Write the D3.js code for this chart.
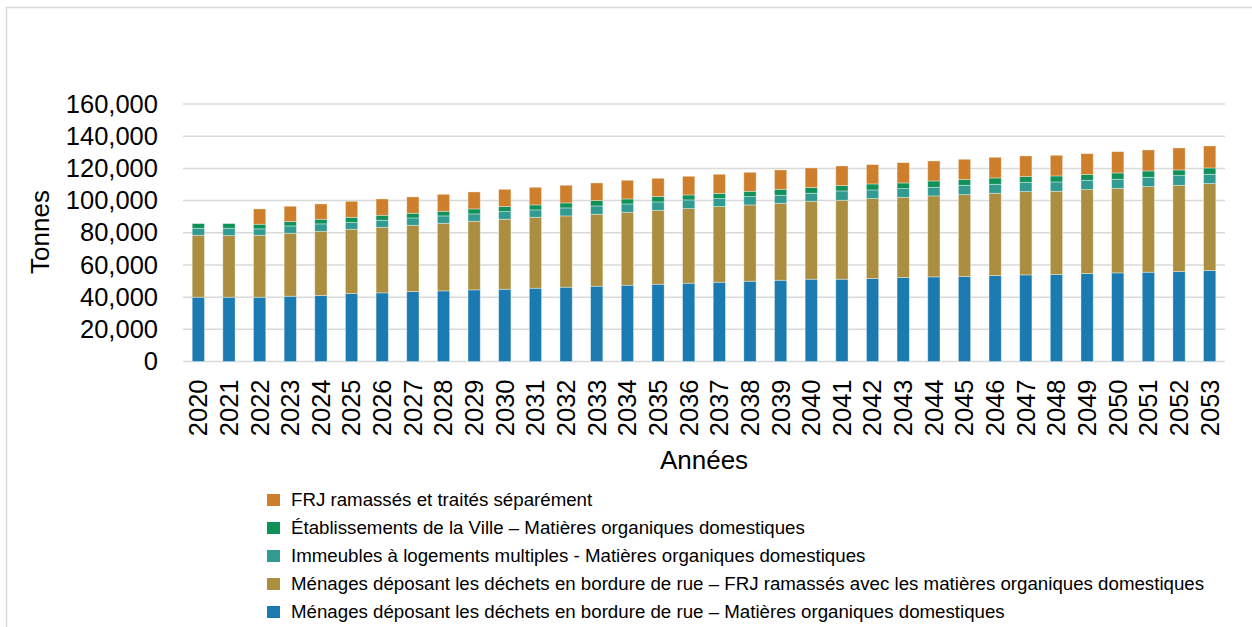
<!DOCTYPE html>
<html>
<head>
<meta charset="utf-8">
<script src="https://cdn.jsdelivr.net/npm/d3@7"></script>
<style>
  body { margin: 0; background: #fff; }
  svg { font-family: "Liberation Sans", Arial, sans-serif; }
</style>
</head>
<body>
<div class="chart"></div>
<script>
// data (tonnes)
var years = d3.range(2020, 2054).map(String);

var menagesMO = [39950, 39950, 39950, 40570, 41000, 42230, 42640, 43470, 43880, 44500,
  44920, 45540, 46160, 46780, 47400, 48020, 48650, 49270, 49890, 50500,
  51130, 51130, 51540, 52160, 52580, 52790, 53400, 53820, 54030, 54650,
  55060, 55480, 55890, 56510];
var menagesFRJ = [38500, 38300, 38500, 39130, 39900, 39970, 40780, 41190, 42020, 42650,
  43480, 44090, 44300, 44720, 45340, 45960, 46350, 46990, 47400, 47830,
  48440, 49060, 49680, 49890, 50300, 50910, 51140, 51750, 51750, 52160,
  52580, 53200, 53610, 54030];
var immeubles = [4350, 4550, 3950, 4550, 4600, 4300, 4350, 4540, 4560, 4550,
  4750, 4560, 4970, 5170, 5160, 5170, 5400, 4960, 5180, 4960,
  4970, 5790, 5380, 5380, 5380, 5800, 5580, 5800, 5790, 5790,
  5590, 5790, 6000, 5790];
var etablissements = [2900, 2900, 2900, 2650, 2900, 3100, 3100, 2900, 2900, 3100,
  3100, 3100, 3100, 3310, 3100, 3320, 3100, 3280, 3310, 3730,
  3510, 3320, 3730, 3520, 3930, 3520, 3940, 3510, 3730, 3530,
  3930, 3930, 3530, 3940];
var frjSepares = [0, 0, 9500, 9560, 9500, 9970, 10130, 10160, 10540, 10560,
  10750, 10970, 10970, 10970, 11600, 11380, 11590, 11830, 11790, 12010,
  12220, 12200, 12010, 12630, 12420, 12630, 12830, 12840, 12830, 13040,
  13250, 13050, 13660, 13660];

var yTicks = [0, 20000, 40000, 60000, 80000, 100000, 120000, 140000, 160000];

var series = [
  { key: "menagesMO", label: "Ménages déposant les déchets en bordure de rue – Matières organiques domestiques", values: menagesMO, color: "#1b7bb0" },
  { key: "menagesFRJ", label: "Ménages déposant les déchets en bordure de rue – FRJ ramassés avec les matières organiques domestiques", values: menagesFRJ, color: "#ab8e40" },
  { key: "immeubles", label: "Immeubles à logements multiples - Matières organiques domestiques", values: immeubles, color: "#319b92" },
  { key: "etablissements", label: "Établissements de la Ville – Matières organiques domestiques", values: etablissements, color: "#11915a" },
  { key: "frjSepares", label: "FRJ ramassés et traités séparément", values: frjSepares, color: "#cd7f2c" }
];

var svgWidth = 1252;
var svgHeight = 627;

var plot = { left: 183, right: 1225, top: 104, bottom: 361.5 };

var svg = d3.select(".chart")
  .append("svg")
  .attr("width", svgWidth)
  .attr("height", svgHeight);

// chart frame
svg.append("rect")
  .attr("x", 6.5)
  .attr("y", 7.5)
  .attr("width", 1260)
  .attr("height", 640)
  .attr("fill", "none")
  .attr("stroke", "#d9d9d9")
  .attr("stroke-width", 1.5);

var table = years.map(function(y, i) {
  var row = { year: y };
  series.forEach(function(s) { row[s.key] = s.values[i]; });
  return row;
});

var x = d3.scaleBand()
  .domain(years)
  .range([plot.left, plot.right])
  .paddingInner(0.6)
  .paddingOuter(0.3);

var y = d3.scaleLinear()
  .domain([0, 160000])
  .range([plot.bottom, plot.top]);

// gridlines
svg.append("g")
  .selectAll("line")
  .data(yTicks)
  .enter()
  .append("line")
  .attr("x1", plot.left)
  .attr("x2", plot.right)
  .attr("y1", d => y(d))
  .attr("y2", d => y(d))
  .attr("stroke", "#d9d9d9")
  .attr("stroke-width", 1.5);

var stack = d3.stack().keys(series.map(s => s.key));
var stacked = stack(table);

svg.append("g")
  .selectAll("g")
  .data(stacked)
  .enter()
  .append("g")
  .attr("fill", (d, i) => series[i].color)
  .selectAll("rect")
  .data(d => d)
  .enter()
  .append("rect")
  .attr("x", d => x(d.data.year))
  .attr("width", x.bandwidth())
  .attr("y", d => y(d[1]))
  .attr("height", d => Math.max(0, y(d[0]) - y(d[1])))
  .attr("stroke", "rgba(255,255,255,0.45)")
  .attr("stroke-width", 0.8);

// y axis
var leftAxis = d3.axisLeft(y)
  .tickValues(yTicks)
  .tickSize(0)
  .tickPadding(25)
  .tickFormat(d3.format(","));

var yAxis = svg.append("g")
  .attr("transform", `translate(${plot.left}, 0)`)
  .call(leftAxis);
yAxis.select(".domain").remove();
yAxis.selectAll("text")
  .attr("font-size", "25.5px")
  .attr("font-family", "Liberation Sans, Arial, sans-serif")
  .attr("fill", "#000");

// x axis
var bottomAxis = d3.axisBottom(x).tickSize(0);
var xAxis = svg.append("g")
  .attr("transform", `translate(0, ${plot.bottom})`)
  .call(bottomAxis);
xAxis.select(".domain").remove();
xAxis.selectAll("text")
  .attr("font-size", "25.5px")
  .attr("font-family", "Liberation Sans, Arial, sans-serif")
  .attr("fill", "#000")
  .attr("transform", "rotate(-90)")
  .attr("text-anchor", "end")
  .attr("x", -18)
  .attr("y", 0)
  .attr("dy", "0.35em");

// axis titles
svg.append("text")
  .attr("transform", "rotate(-90)")
  .attr("x", -232)
  .attr("y", 49)
  .attr("text-anchor", "middle")
  .attr("font-size", "26px")
  .attr("fill", "#000")
  .text("Tonnes");

svg.append("text")
  .attr("x", (plot.left + plot.right) / 2)
  .attr("y", 469)
  .attr("text-anchor", "middle")
  .attr("font-size", "26px")
  .attr("fill", "#000")
  .text("Années");

// legend, top to bottom: last series first
var legend = svg.append("g")
  .selectAll("g")
  .data(series.slice().reverse())
  .enter()
  .append("g")
  .attr("transform", (d, i) => `translate(267, ${506 + i * 28})`);

legend.append("rect")
  .attr("x", 0)
  .attr("y", -12)
  .attr("width", 13)
  .attr("height", 12)
  .attr("fill", d => d.color);

legend.append("text")
  .attr("x", 24)
  .attr("y", 0)
  .attr("font-size", "18.7px")
  .attr("fill", "#000")
  .text(d => d.label);
</script>
</body>
</html>
